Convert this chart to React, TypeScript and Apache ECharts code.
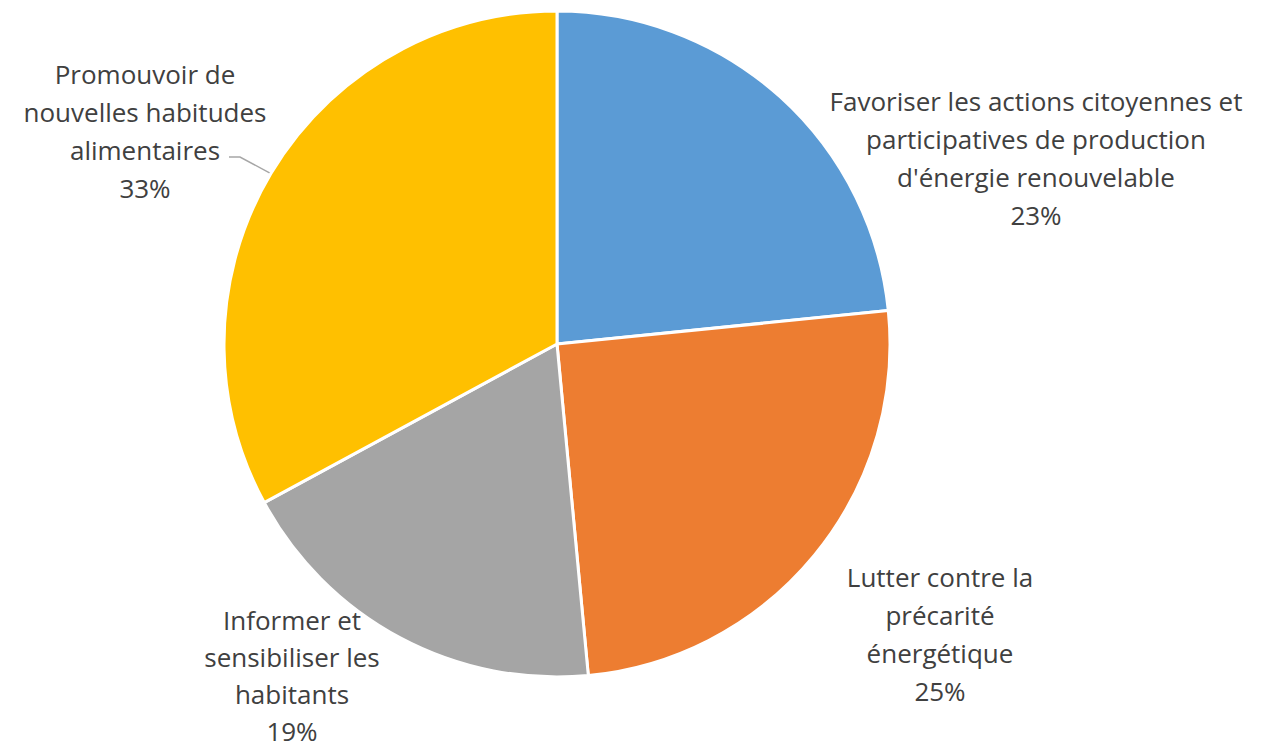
import React, { useEffect, useRef } from "react";
import * as echarts from "echarts";

const categories = [
  "Favoriser les actions citoyennes et\nparticipatives de production\nd'énergie renouvelable",
  "Lutter contre la\nprécarité\nénergétique",
  "Informer et\nsensibiliser les\nhabitants",
  "Promouvoir de\nnouvelles habitudes\nalimentaires",
];
const values = [23.4, 25.1, 18.6, 32.9];
const colors = ["#5B9BD5", "#ED7D31", "#A5A5A5", "#FFC000"];
const labelCenters = [
  [1036, 158],
  [940, 634],
  [292, 675],
  [145, 131],
];
const labelLineHeights = [38, 38, 37, 38];

const CX = 557;
const CY = 344;
const R = 333;

export default function App() {
  const ref = useRef<HTMLDivElement>(null);
  useEffect(() => {
    if (!ref.current) return;
    const chart = echarts.init(ref.current, undefined, { renderer: "svg" });
    const total = values.reduce((a, b) => a + b, 0);
    const before = values.slice(0, 3).reduce((a, b) => a + b, 0);
    const midFrac = (before + values[3] / 2) / total;
    const ang = midFrac * 2 * Math.PI;
    const ax = CX + R * Math.sin(ang);
    const ay = CY - R * Math.cos(ang);
    chart.setOption({
      animation: false,
      backgroundColor: "#ffffff",
      graphic: [
        {
          type: "polyline",
          z: 1,
          shape: {
            points: [
              [229, 157],
              [240, 157],
              [ax, ay],
            ],
          },
          style: { stroke: "#A6A6A6", lineWidth: 1.5, fill: null },
        },
      ],
      series: [
        {
          type: "pie",
          center: [CX, CY],
          radius: R,
          startAngle: 90,
          clockwise: true,
          z: 2,
          data: categories.map((name, i) => ({
            name,
            value: values[i],
            itemStyle: { color: colors[i] },
            label: { lineHeight: labelLineHeights[i] },
          })),
          itemStyle: { borderColor: "#ffffff", borderWidth: 3 },
          label: {
            show: true,
            position: "outside",
            formatter: (p: any) => `${p.name}\n${Math.round(p.percent)}%`,
            fontFamily: "'Open Sans', 'Liberation Sans', sans-serif",
            fontSize: 26,
            lineHeight: 38,
            color: "#404040",
            align: "center",
            width: 600,
            overflow: "none",
          },
          labelLine: { show: false },
          labelLayout: (params: any) => {
            const c = labelCenters[params.dataIndex];
            return {
              x: c[0],
              y: c[1],
              align: "center",
              verticalAlign: "middle",
            };
          },
        },
      ],
    });
    return () => chart.dispose();
  }, []);
  return (
    <div
      ref={ref}
      style={{ position: "fixed", left: 0, top: 0, width: 1263, height: 750 }}
    />
  );
}
